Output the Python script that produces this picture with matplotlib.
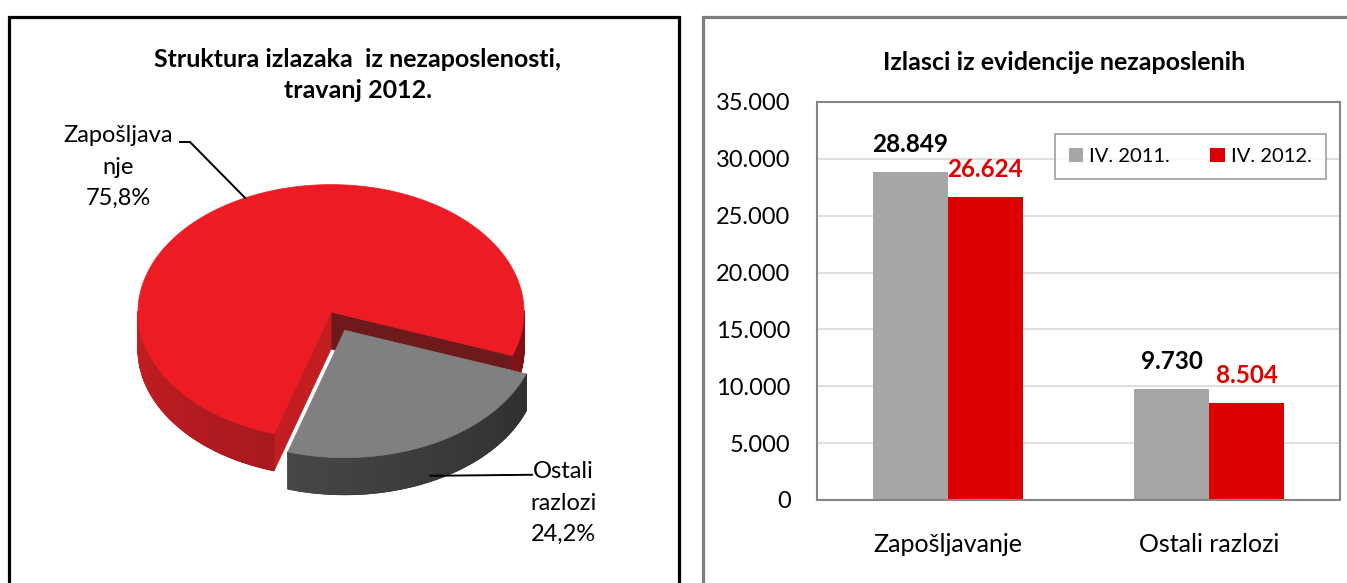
import numpy as np
import matplotlib
matplotlib.use('Agg')
import matplotlib.pyplot as plt
from matplotlib.patches import Polygon, Rectangle
from matplotlib.colors import to_rgb
from matplotlib.ticker import FuncFormatter

# data
categories = ['Zapošljavanje', 'Ostali razlozi']
series_names = ['IV. 2011.', 'IV. 2012.']
values_2011 = [28849, 9730]
values_2012 = [26624, 8504]
pie_labels = ['Zapošljava\nnje', 'Ostali\nrazlozi']
y_ticks = [0, 5000, 10000, 15000, 20000, 25000, 30000, 35000]

plt.rcParams['font.family'] = ['Lato', 'DejaVu Sans']

W, H = 1347, 583
fig = plt.figure(figsize=(W / 100, H / 100), dpi=100)


def fx(px):
    return px / W


def fy(py):
    return 1 - py / H


def thousands(v, pos=None):
    return f'{int(v):,}'.replace(',', '.')


def mix(c1, c2, t):
    a, b = np.array(to_rgb(c1)), np.array(to_rgb(c2))
    return tuple(a + (b - a) * t)


# panel frames
fig.add_artist(Rectangle((fx(9), fy(600)), fx(670), (600 - 17) / H, fill=False,
                         ec='black', lw=2.3, transform=fig.transFigure))
fig.add_artist(Rectangle((fx(703), fy(600)), fx(700), (600 - 17) / H, fill=False,
                         ec='#7F7F7F', lw=2.3, transform=fig.transFigure))

# ---------------- left: 3D exploded pie ----------------
axp = fig.add_axes([0, 0, fx(690), 1])
axp.set_xlim(0, 690)
axp.set_ylim(583, 0)
axp.axis('off')

cx, cy = 331, 312
R, tilt, depth = 193, 0.66, 37
start = -20
explode = [0.0, 0.16]
top_colors = ['#ED1C24', '#808080']
wall_colors = [('#C61E23', '#7A1216'), ('#5A5A5A', '#2A2A2A')]
face_colors = [('#6E1A1D', '#C21D21'), ('#555555', '#555555')]


def pt(c, th, dz=0.0):
    r = np.radians(th)
    return (c[0] + R * np.cos(r), c[1] - R * tilt * np.sin(r) + dz)


total = sum(values_2012)
fracs = [v / total for v in values_2012]
slices = []
a = start
for i, f in enumerate(fracs):
    a0, a1 = a, a + 360 * f
    mid = np.radians((a0 + a1) / 2)
    c = (cx + explode[i] * R * np.cos(mid), cy - explode[i] * R * tilt * np.sin(mid))
    slices.append((c, a0, a1))
    a = a1

for i, (c, a0, a1) in enumerate(slices):
    # radial cut faces
    for e, nrm, col in [(a0, a0 - 90, face_colors[i][0]), (a1, a1 + 90, face_colors[i][1])]:
        if np.sin(np.radians(nrm)) < 0:
            p1, p2 = pt(c, e), pt(c, e, depth)
            poly = [c, p1, p2, (c[0], c[1] + depth)]
            axp.add_patch(Polygon(poly, closed=True, fc=col, ec=col, lw=0.6))
    # outer wall: solid underlay, then shaded strips
    ths = np.linspace(a0, a1, 240)
    runs, cur = [], []
    for t0, t1 in zip(ths[:-1], ths[1:]):
        if np.sin(np.radians((t0 + t1) / 2)) < 0:
            cur.append((t0, t1))
        elif cur:
            runs.append(cur)
            cur = []
    if cur:
        runs.append(cur)
    for run in runs:
        edge = [run[0][0]] + [s[1] for s in run]
        base = mix(wall_colors[i][0], wall_colors[i][1], 0.4)
        poly = [pt(c, th) for th in edge] + [pt(c, th, depth) for th in edge[::-1]]
        axp.add_patch(Polygon(poly, closed=True, fc=base, ec=base, lw=0.6))
        for t0, t1 in run:
            t = ((((t0 + t1) / 2) % 360) - 180) / 180
            col = mix(wall_colors[i][0], wall_colors[i][1], t)
            q = [pt(c, t0), pt(c, t1), pt(c, t1, depth), pt(c, t0, depth)]
            axp.add_patch(Polygon(q, closed=True, fc=col, ec=col, lw=0.8))
    # top face
    arc = [pt(c, th) for th in np.linspace(a0, a1, 300)]
    axp.add_patch(Polygon([c] + arc, closed=True, fc=top_colors[i], ec=top_colors[i], lw=0.5))

# labels with leader lines
pcts = [f'{f * 100:.1f}%'.replace('.', ',') for f in fracs]
c0, a0, a1 = slices[0]
end0 = pt(c0, (a0 + a1) / 2)
axp.plot([180, 190, end0[0]], [142, 142, end0[1]], color='black', lw=1.4)
axp.text(118, 167, f'{pie_labels[0]}\n{pcts[0]}', ha='center', va='center',
         fontsize=17, linespacing=1.6)
c1, b0, b1 = slices[1]
end1 = pt(c1, (b0 + b1) / 2, depth * 0.85)
axp.plot([532, end1[0]], [end1[1] - 1, end1[1]], color='black', lw=1.4)
axp.text(563, 503, f'{pie_labels[1]}\n{pcts[1]}', ha='center', va='center',
         fontsize=17, linespacing=1.6)

fig.text(fx(358), fy(75), 'Struktura izlazaka  iz nezaposlenosti,\ntravanj 2012.',
         ha='center', va='center', fontsize=18, fontweight='bold', linespacing=1.45)

# ---------------- right: bar chart ----------------
ax = fig.add_axes([fx(817), fy(500), fx(1340) - fx(817), (500 - 102) / H])
x = np.arange(len(categories))
w = 0.287
ax.bar(x - w / 2, values_2011, w, color='#A6A6A6', label=series_names[0], zorder=2)
ax.bar(x + w / 2, values_2012, w, color='#DD0000', label=series_names[1], zorder=2)

for xi, v in zip(x - w / 2, values_2011):
    ax.annotate(thousands(v), (xi, v), xytext=(0, 20), textcoords='offset points',
                ha='center', va='center', fontsize=17.5, fontweight='bold', color='black')
for xi, v in zip(x + w / 2, values_2012):
    ax.annotate(thousands(v), (xi, v), xytext=(0, 20), textcoords='offset points',
                ha='center', va='center', fontsize=17.5, fontweight='bold', color='#E00000')

ax.set_xlim(-0.5, 1.5)
ax.set_ylim(0, 35000)
ax.set_yticks(y_ticks)
ax.yaxis.set_major_formatter(FuncFormatter(thousands))
ax.set_xticks(x)
ax.set_xticklabels(categories)
ax.tick_params(axis='y', length=0, pad=19, labelsize=17)
ax.tick_params(axis='x', length=0, pad=24, labelsize=18)
ax.yaxis.grid(True, color='#D9D9D9', lw=1.2)
ax.set_axisbelow(True)
for s in ax.spines.values():
    s.set_color('#868686')
    s.set_linewidth(1.5)

leg = ax.legend(loc='center', bbox_to_anchor=(0.714, 0.863), ncol=2, fontsize=14.5,
                frameon=True, fancybox=False, handlelength=0.7, handleheight=0.7,
                handletextpad=0.3, columnspacing=2.0, borderpad=0.7)
leg.get_frame().set_edgecolor('#868686')
leg.get_frame().set_linewidth(1.2)

fig.text(fx(1064), fy(62), 'Izlasci iz evidencije nezaposlenih', ha='center', va='center',
         fontsize=18, fontweight='bold')

fig.savefig('out.png', dpi=100)
